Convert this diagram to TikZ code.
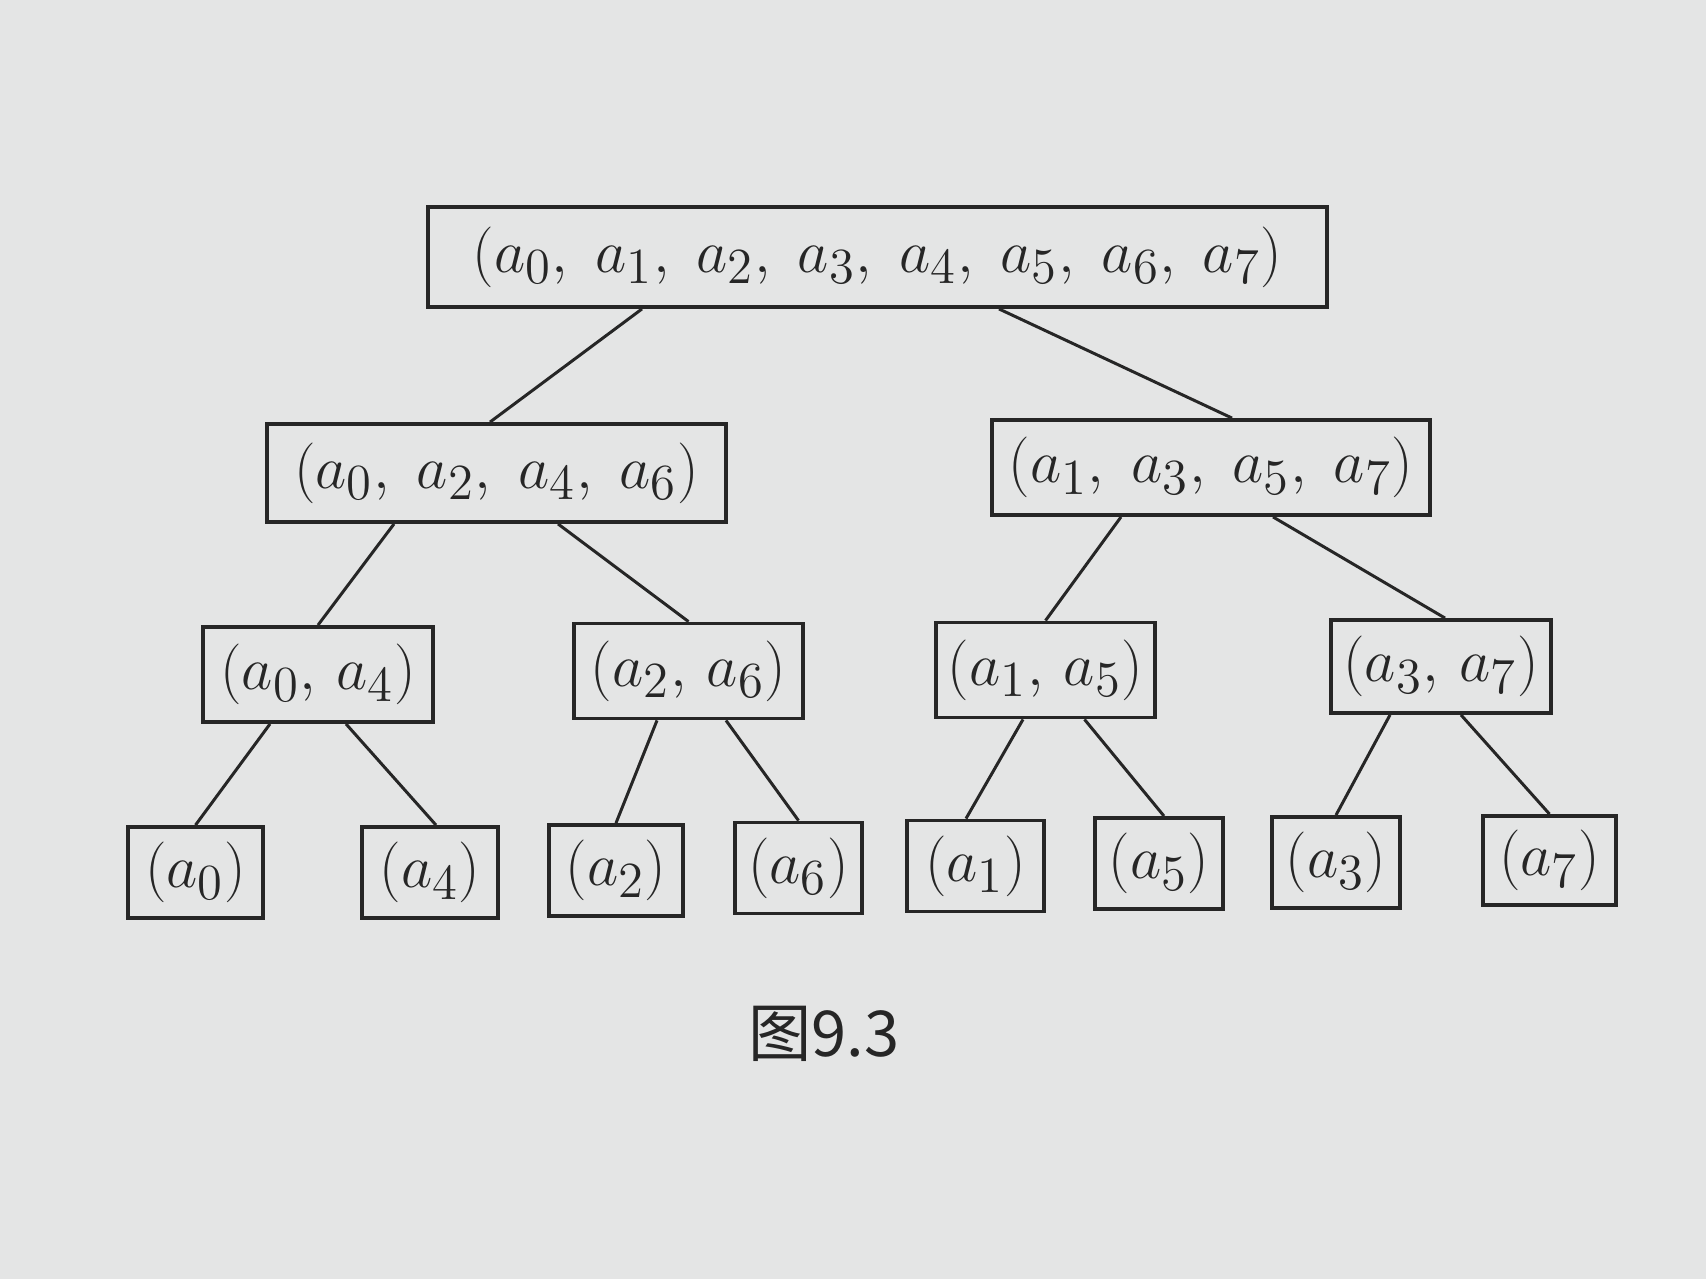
\documentclass[tikz,border=0pt]{standalone}
\usepackage{fontspec}
\usepackage{amsmath}
\newfontfamily\cjk{Noto Sans CJK SC}
\definecolor{paper}{RGB}{228,229,229}
\definecolor{ink}{RGB}{38,38,38}
\tikzset{
  box/.style={draw=ink, line width=1.1pt, inner sep=0pt, text=ink,
    font=\fontsize{19}{23}\selectfont},
  leaf/.style={box, minimum width=1.33cm, minimum height=0.91cm},
  pair/.style={box, minimum width=2.24cm, minimum height=0.95cm},
  edge/.style={draw=ink, line width=0.85pt},
}
\begin{document}
\begin{tikzpicture}[x=1cm,y=-1cm]
  \fill[paper] (0,0) rectangle (17.06,12.79);

  % top level
  \node[box, minimum width=8.99cm, minimum height=1.0cm] (root) at (8.775,2.57)
    {$(a_0,\; a_1,\; a_2,\; a_3,\; a_4,\; a_5,\; a_6,\; a_7)$};

  % second level
  \node[box, minimum width=4.59cm, minimum height=0.98cm] (even) at (4.965,4.73)
    {$(a_0,\; a_2,\; a_4,\; a_6)$};
  \node[box, minimum width=4.38cm, minimum height=0.95cm] (odd) at (12.11,4.675)
    {$(a_1,\; a_3,\; a_5,\; a_7)$};

  % third level
  \node[pair, minimum width=2.30cm] (p04) at (3.18,6.745) {$(a_0,\, a_4)$};
  \node[pair, minimum width=2.29cm] (p26) at (6.885,6.71) {$(a_2,\, a_6)$};
  \node[pair, minimum width=2.19cm] (p15) at (10.455,6.70) {$(a_1,\, a_5)$};
  \node[pair, minimum width=2.20cm, minimum height=0.93cm] (p37) at (14.41,6.665) {$(a_3,\, a_7)$};

  % leaves
  \node[leaf, minimum width=1.35cm] (l0) at (1.955,8.725) {$(a_0)$};
  \node[leaf, minimum width=1.36cm] (l4) at (4.30,8.725) {$(a_4)$};
  \node[leaf, minimum width=1.34cm] (l2) at (6.16,8.705) {$(a_2)$};
  \node[leaf, minimum width=1.27cm] (l6) at (7.985,8.68) {$(a_6)$};
  \node[leaf, minimum width=1.37cm] (l1) at (9.755,8.66) {$(a_1)$};
  \node[leaf, minimum width=1.28cm] (l5) at (11.59,8.635) {$(a_5)$};
  \node[leaf, minimum width=1.28cm] (l3) at (13.36,8.625) {$(a_3)$};
  \node[leaf, minimum width=1.33cm, minimum height=0.89cm] (l7) at (15.495,8.605) {$(a_7)$};

  % connectors
  \draw[edge] ([xshift=-2.355cm]root.south) -- ([xshift=-0.065cm]even.north);
  \draw[edge] ([xshift=1.215cm]root.south) -- ([xshift=0.21cm]odd.north);
  \draw[edge] ([xshift=-1.025cm]even.south) -- (p04.north);
  \draw[edge] ([xshift=0.615cm]even.south) -- (p26.north);
  \draw[edge] ([xshift=-0.9cm]odd.south) -- (p15.north);
  \draw[edge] ([xshift=0.62cm]odd.south) -- ([xshift=0.04cm]p37.north);
  \draw[edge] ([xshift=-0.48cm]p04.south) -- (l0.north);
  \draw[edge] ([xshift=0.28cm]p04.south) -- ([xshift=0.06cm]l4.north);
  \draw[edge] ([xshift=-0.315cm]p26.south) -- (l2.north);
  \draw[edge] ([xshift=0.375cm]p26.south) -- (l6.north);
  \draw[edge] ([xshift=-0.225cm]p15.south) -- ([xshift=-0.095cm]l1.north);
  \draw[edge] ([xshift=0.39cm]p15.south) -- ([xshift=0.05cm]l5.north);
  \draw[edge] ([xshift=-0.51cm]p37.south) -- (l3.north);
  \draw[edge] ([xshift=0.2cm]p37.south) -- (l7.north);

  % caption
  \node[text=ink, font=\cjk\fontsize{18}{22}\selectfont] (cap) at (8.24,10.34) {图9.3};
\end{tikzpicture}
\end{document}
